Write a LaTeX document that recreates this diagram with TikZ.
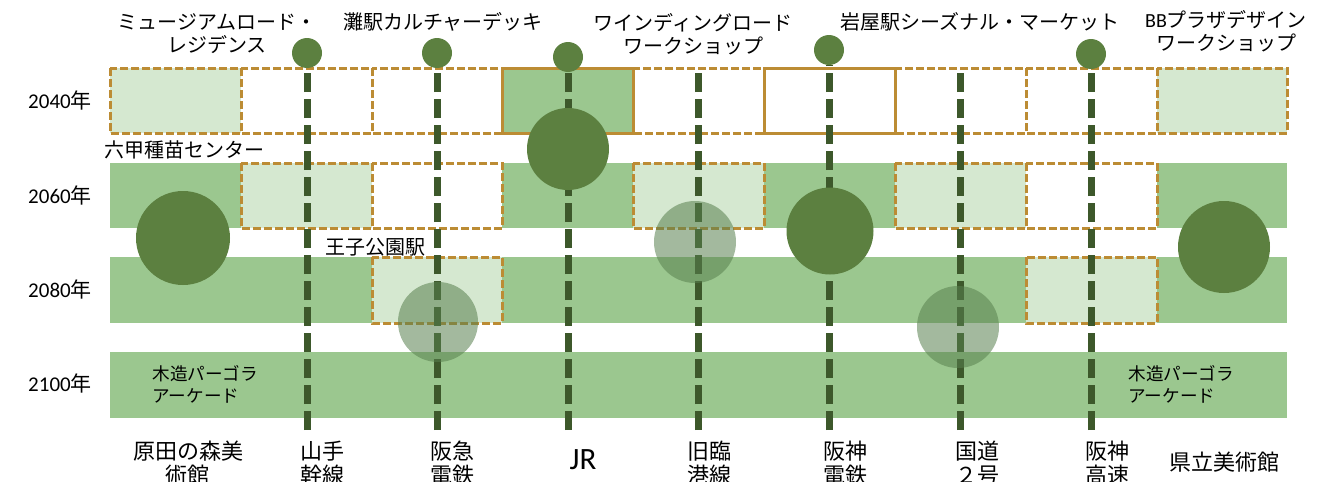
\documentclass[tikz,border=0pt]{standalone}
\usepackage{fontspec}
\setmainfont{Noto Sans CJK JP}
\newfontfamily\latfont{Carlito}
\usetikzlibrary{calc}

\definecolor{bandgreen}{RGB}{155,199,143}
\definecolor{palegreen}{RGB}{213,232,208}
\definecolor{gold}{RGB}{188,140,52}
\definecolor{railgreen}{RGB}{61,88,43}
\definecolor{treegreen}{RGB}{92,128,64}
\definecolor{fadegreen}{RGB}{88,128,78}

\tikzset{
  plan/.style={draw=gold, line width=1.5pt, dash pattern=on 4pt off 1.5pt},
  fixed/.style={draw=gold, line width=1.5pt},
  rail/.style={draw=railgreen, line width=3.5pt, dash pattern=on 9.5pt off 3.5pt},
  tree/.style={circle, fill=treegreen, inner sep=0pt},
  fade/.style={circle, fill=fadegreen, fill opacity=0.55, inner sep=0pt},
  lbl/.style={font=\fontsize{10pt}{11.5pt}\selectfont, align=center, inner sep=0pt},
  small/.style={font=\fontsize{8.8pt}{11pt}\selectfont, align=left, inner sep=0pt},
  foot/.style={font=\fontsize{11pt}{12pt}\selectfont, align=center, inner sep=0pt},
  year/.style={font=\fontsize{10.5pt}{12pt}\selectfont, inner sep=0pt}
}

\begin{document}
\begin{tikzpicture}[x=0.5pt, y=-0.5pt]
    \useasboundingbox (0,0) rectangle (1329,482);

    \fill[bandgreen] (110,163) rectangle (1287,228);
    \fill[bandgreen] (110,257) rectangle (1287,323);
    \fill[bandgreen] (110,352) rectangle (1287,418);

    \draw[plan, fill=palegreen] (110,68) rectangle (241,133);
    \draw[plan, fill=white] (241,68) rectangle (372,133);
    \draw[plan, fill=white] (372,68) rectangle (502,133);
    \draw[plan, fill=white] (633,68) rectangle (764,133);
    \draw[plan, fill=white] (895,68) rectangle (1026,133);
    \draw[plan, fill=white] (1026,68) rectangle (1157,133);
    \draw[plan, fill=palegreen] (1157,68) rectangle (1287,133);
    \draw[fixed, fill=bandgreen] (502,68) rectangle (633,133);
    \draw[fixed, fill=white] (764,68) rectangle (895,133);

    \draw[plan, fill=palegreen] (241,163) rectangle (372,228);
    \draw[plan, fill=white] (372,163) rectangle (502,228);
    \draw[plan, fill=palegreen] (633,163) rectangle (764,228);
    \draw[plan, fill=palegreen] (895,163) rectangle (1026,228);
    \draw[plan, fill=white] (1026,163) rectangle (1157,228);

    \draw[plan, fill=palegreen] (372,257) rectangle (502,323);
    \draw[plan, fill=palegreen] (1026,257) rectangle (1157,323);

    \node[tree, minimum size=15pt] at (307,53) (dotYamate) {};
    \node[tree, minimum size=15pt] at (437,53) (dotHankyu) {};
    \node[tree, minimum size=15pt] at (568,57) (dotJR) {};
    \node[tree, minimum size=15pt] at (829,50) (dotHanshin) {};
    \node[tree, minimum size=15pt] at (1091,54) (dotHwy) {};
    \coordinate (topRinko) at (698,68);
    \coordinate (topKokudo) at (960,68);

    \coordinate (endYamate) at (307,430);
    \coordinate (endHankyu) at (437,430);
    \coordinate (endJR) at (568,430);
    \coordinate (endRinko) at (698,430);
    \coordinate (endHanshin) at (829,430);
    \coordinate (endKokudo) at (960,430);
    \coordinate (endHwy) at (1091,430);

    \draw[rail] (endYamate) -- (dotYamate.south);
    \draw[rail] (endHankyu) -- (dotHankyu.south);
    \draw[rail] (endJR) -- (dotJR.south);
    \draw[rail] (endRinko) -- (topRinko);
    \draw[rail] (endHanshin) -- (dotHanshin.south);
    \draw[rail] (endKokudo) -- (topKokudo);
    \draw[rail] (endHwy) -- (dotHwy.south);

    \node[tree, minimum size=47pt] at (183,238) (treeHarada) {};
    \node[tree, minimum size=41pt] at (568,149) (treeJR) {};
    \node[tree, minimum size=43.5pt] at (830,231) (treeHanshin) {};
    \node[tree, minimum size=46pt] at (1224,247) (treeKenritsu) {};
    \node[fade, minimum size=40pt] at (438,322) (fadeHankyu) {};
    \node[fade, minimum size=41pt] at (695,242) (fadeRinko) {};
    \node[fade, minimum size=41pt] at (958,327) (fadeKokudo) {};

    \node[year] at (60,100) (y2040) {{\latfont 2040}年};
    \node[year] at (60,195) (y2060) {{\latfont 2060}年};
    \node[year] at (60,289) (y2080) {{\latfont 2080}年};
    \node[year] at (60,383) (y2100) {{\latfont 2100}年};

    \node[lbl] at (217,34) (museum) {ミュージアムロード・\\レジデンス};
    \node[lbl] at (443,22) (nada) {灘駅カルチャーデッキ};
    \node[lbl] at (693,34) (winding) {ワインディングロード\\ワークショップ};
    \node[lbl] at (980,22) (iwaya) {岩屋駅シーズナル・マーケット};
    \node[lbl] at (1226,31) (bbplaza) {{\latfont BB}プラザデザイン\\ワークショップ};
    \node[lbl, anchor=west] at (104,150) (rokko) {六甲種苗センター};
    \node[lbl] at (375,247) (oji) {王子公園駅};
    \node[small, anchor=west] at (152,384) (pergolaL) {木造パーゴラ\\アーケード};
    \node[small, anchor=west] at (1128,384) (pergolaR) {木造パーゴラ\\アーケード};

    \node[foot] at (188,463) (harada) {原田の森美\\術館};
    \node[foot] at (322,463) (yamate) {山手\\幹線};
    \node[foot] at (452,463) (hankyu) {阪急\\電鉄};
    \node[font=\fontsize{15.5pt}{16pt}\latfont, inner sep=0pt] at (583,460) (jr) {JR};
    \node[foot] at (709,463) (rinko) {旧臨\\港線};
    \node[foot] at (845,463) (hanshin) {阪神\\電鉄};
    \node[foot] at (977,463) (kokudo) {国道\\２号};
    \node[foot] at (1107,463) (hwy) {阪神\\高速};
    \node[foot] at (1224,462) (kenritsu) {県立美術館};
\end{tikzpicture}
\end{document}
